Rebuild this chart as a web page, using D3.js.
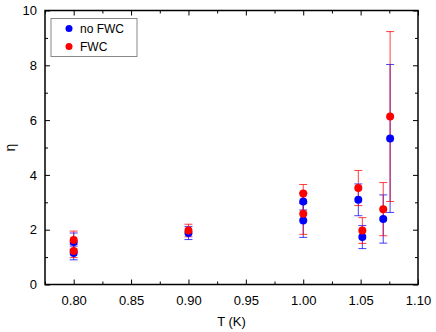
<!DOCTYPE html>
<html>
<head>
<meta charset="utf-8">
<script src="https://cdn.jsdelivr.net/npm/d3@7"></script>
<style>
  body { margin: 0; background: #fff; }
  svg { display: block; font-family: "Liberation Sans", Arial, sans-serif; }
</style>
</head>
<body>
<svg id="chart" width="436" height="332"></svg>
<script>
// temperatures (K) of each measurement
var temps = [0.80, 0.80, 0.90, 1.00, 1.00, 1.048, 1.0515, 1.0697, 1.0757];
// eta without FWC and its error
var noFwc = [1.55, 1.15, 1.88, 3.03, 2.34, 3.09, 1.73, 2.39, 5.33];
var noFwcErr = [0.33, 0.25, 0.24, 0.31, 0.62, 0.58, 0.42, 0.88, 2.7];
// eta with FWC and its error
var fwc = [1.62, 1.22, 1.97, 3.32, 2.58, 3.52, 1.97, 2.75, 6.13];
var fwcErr = [0.33, 0.24, 0.23, 0.33, 0.75, 0.64, 0.47, 0.97, 3.1];

var xTicks = [0.80, 0.85, 0.90, 0.95, 1.00, 1.05, 1.10];
var yTicks = [0, 2, 4, 6, 8, 10];

var svg = d3.select("#chart");
var margin = { top: 10.5, right: 18, bottom: 47.5, left: 45 },
    width = 436 - margin.left - margin.right,
    height = 332 - margin.top - margin.bottom;

var x = d3.scaleLinear().domain([0.775, 1.10]).range([0, width]);
var y = d3.scaleLinear().domain([0, 10]).range([height, 0]);

var g = svg.append("g")
    .attr("transform", "translate(" + margin.left + "," + margin.top + ")");

// minor ticks
var xMinor = d3.range(0.775, 1.1001, 0.025).filter(function(v) {
    return !xTicks.some(function(t) { return Math.abs(t - v) < 1e-6; });
});
var yMinor = [1, 3, 5, 7, 9];

function styleAxis(sel) {
    sel.select(".domain").remove();
    sel.selectAll("line").attr("stroke", "#000").attr("stroke-width", 1);
    sel.selectAll("text").attr("font-size", 13).attr("fill", "#000");
}

// bottom
g.append("g").attr("transform", "translate(0," + height + ")")
    .call(d3.axisBottom(x).tickValues(xTicks).tickFormat(d3.format(".2f")).tickSizeInner(-5).tickPadding(11))
    .call(styleAxis);
g.append("g").attr("transform", "translate(0," + height + ")")
    .call(d3.axisBottom(x).tickValues(xMinor).tickFormat("").tickSizeInner(-3))
    .call(styleAxis);
// top
g.append("g")
    .call(d3.axisTop(x).tickValues(xTicks).tickFormat("").tickSizeInner(-5))
    .call(styleAxis);
g.append("g")
    .call(d3.axisTop(x).tickValues(xMinor).tickFormat("").tickSizeInner(-3))
    .call(styleAxis);
// left
g.append("g")
    .call(d3.axisLeft(y).tickValues(yTicks).tickFormat(d3.format("d")).tickSizeInner(-5).tickPadding(8))
    .call(styleAxis);
g.append("g")
    .call(d3.axisLeft(y).tickValues(yMinor).tickFormat("").tickSizeInner(-3))
    .call(styleAxis);
// right
g.append("g").attr("transform", "translate(" + width + ",0)")
    .call(d3.axisRight(y).tickValues(yTicks).tickFormat("").tickSizeInner(-5))
    .call(styleAxis);
g.append("g").attr("transform", "translate(" + width + ",0)")
    .call(d3.axisRight(y).tickValues(yMinor).tickFormat("").tickSizeInner(-3))
    .call(styleAxis);

g.append("rect")
    .attr("width", width).attr("height", height)
    .attr("fill", "none").attr("stroke", "#000").attr("stroke-width", 1.5);

// error bars
function errorBars(vals, errs, color) {
    var eb = g.append("g").attr("stroke", color).attr("stroke-width", 1).attr("stroke-opacity", 0.75);
    temps.forEach(function(t, i) {
        var cx = x(t), lo = y(vals[i] - errs[i]), hi = y(vals[i] + errs[i]);
        eb.append("line").attr("x1", cx).attr("x2", cx).attr("y1", lo).attr("y2", hi);
        eb.append("line").attr("x1", cx - 4).attr("x2", cx + 4).attr("y1", lo).attr("y2", lo);
        eb.append("line").attr("x1", cx - 4).attr("x2", cx + 4).attr("y1", hi).attr("y2", hi);
    });
}
errorBars(noFwc, noFwcErr, "#0000ff");
errorBars(fwc, fwcErr, "#ff0000");

function points(vals, color) {
    g.append("g").selectAll("circle")
        .data(vals)
        .enter().append("circle")
        .attr("cx", function(d, i) { return x(temps[i]); })
        .attr("cy", function(d) { return y(d); })
        .attr("r", 4)
        .attr("fill", color);
}
points(noFwc, "#0000ff");
points(fwc, "#ff0000");

// legend
var legend = g.append("g").attr("transform", "translate(6,8)");
legend.append("rect")
    .attr("width", 86).attr("height", 38)
    .attr("fill", "#fff").attr("stroke", "#888").attr("stroke-width", 1);
[["no FWC", "#0000ff"], ["FWC", "#ff0000"]].forEach(function(d, i) {
    legend.append("circle").attr("cx", 18).attr("cy", 10 + i * 18).attr("r", 3.5).attr("fill", d[1]);
    legend.append("text").attr("x", 29).attr("y", 10 + i * 18).attr("dy", "0.35em")
        .attr("font-size", 12).text(d[0]);
});

// axis titles
svg.append("text")
    .attr("x", margin.left + width / 2).attr("y", 326)
    .attr("text-anchor", "middle").attr("font-size", 13).text("T (K)");
svg.append("text")
    .attr("transform", "translate(10," + (margin.top + height / 2) + ") rotate(-90)")
    .attr("text-anchor", "middle").attr("dy", "0.35em").attr("font-size", 14).text("η");
</script>
</body>
</html>
